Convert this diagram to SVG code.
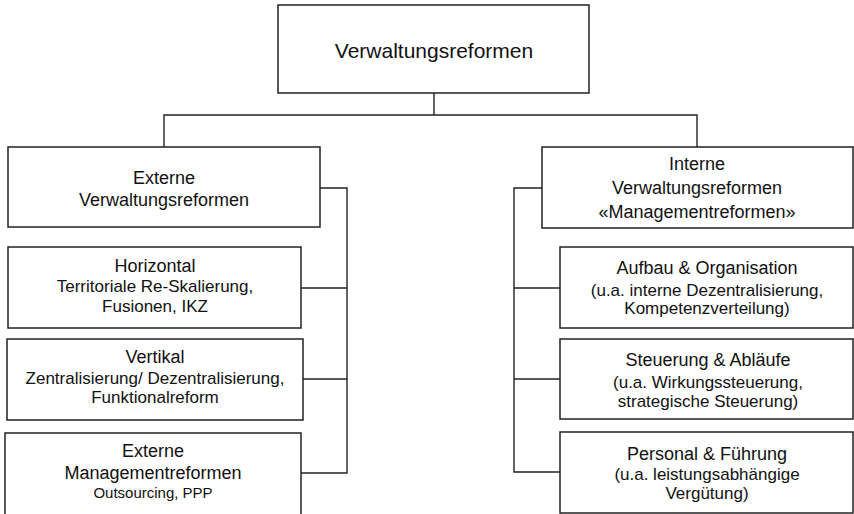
<svg xmlns="http://www.w3.org/2000/svg" width="854" height="514" viewBox="0 0 854 514">
<style>
.box{fill:#fff;stroke:#222;stroke-width:1.5}
.c{fill:none;stroke:#222;stroke-width:1.4}
text{font-family:"Liberation Sans",Arial,sans-serif;fill:#111;text-anchor:middle}
.h{font-size:18px}
.s{font-size:17px}
.t{font-size:15px}
</style>
<rect width="854" height="514" fill="#fff"/>
<g id="connectors">
<polyline class="c" points="434,93 434,115"/>
<polyline class="c" points="164,147 164,115 697,115 697,147"/>
<polyline class="c" points="320,188 347,188 347,473 301,473"/>
<line class="c" x1="301" y1="288" x2="347" y2="288"/>
<line class="c" x1="303" y1="379" x2="347" y2="379"/>
<polyline class="c" points="542,188 514,188 514,472 560,472"/>
<line class="c" x1="514" y1="288" x2="560" y2="288"/>
<line class="c" x1="514" y1="379" x2="560" y2="379"/>
</g>
<g id="root">
<rect class="box" x="278" y="5" width="311" height="88"/>
<text x="434" y="58" style="font-size:21px">Verwaltungsreformen</text>
</g>
<g id="externe">
<rect class="box" x="8" y="147" width="312" height="80"/>
<text class="h" x="164" y="184">Externe</text>
<text class="h" x="164" y="206">Verwaltungsreformen</text>
</g>
<g id="horizontal">
<rect class="box" x="8" y="247" width="293" height="81"/>
<text class="h" x="155" y="272">Horizontal</text>
<text class="s" x="155" y="292">Territoriale Re-Skalierung,</text>
<text class="s" x="155" y="312">Fusionen, IKZ</text>
</g>
<g id="vertikal">
<rect class="box" x="7" y="339" width="296" height="81"/>
<text class="h" x="155" y="363">Vertikal</text>
<text class="s" x="155" y="384">Zentralisierung/ Dezentralisierung,</text>
<text class="s" x="155" y="403">Funktionalreform</text>
</g>
<g id="externe-management">
<rect class="box" x="5" y="433" width="296" height="84"/>
<text class="h" x="153" y="457">Externe</text>
<text class="h" x="153" y="479">Managementreformen</text>
<text class="t" x="153" y="498">Outsourcing, PPP</text>
</g>
<g id="interne">
<rect class="box" x="542" y="147" width="311" height="81"/>
<text class="h" x="697" y="170">Interne</text>
<text class="h" x="697" y="194">Verwaltungsreformen</text>
<text class="h" x="697" y="218">«Managementreformen»</text>
</g>
<g id="aufbau">
<rect class="box" x="560" y="247" width="293" height="81"/>
<text class="h" x="707" y="274">Aufbau &amp; Organisation</text>
<text class="s" x="707" y="296">(u.a. interne Dezentralisierung,</text>
<text class="s" x="707" y="314">Kompetenzverteilung)</text>
</g>
<g id="steuerung">
<rect class="box" x="560" y="339" width="293" height="80"/>
<text class="h" x="708" y="366">Steuerung &amp; Abläufe</text>
<text class="s" x="708" y="388">(u.a. Wirkungssteuerung,</text>
<text class="s" x="708" y="407">strategische Steuerung)</text>
</g>
<g id="personal">
<rect class="box" x="560" y="432" width="293" height="81"/>
<text class="h" x="707" y="460">Personal &amp; Führung</text>
<text class="s" x="707" y="480">(u.a. leistungsabhängige</text>
<text class="s" x="707" y="499">Vergütung)</text>
</g>
</svg>
